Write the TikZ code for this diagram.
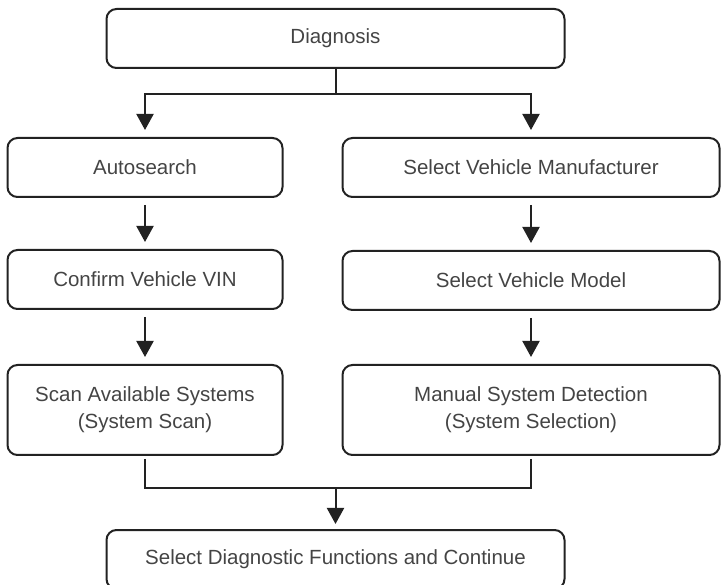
\documentclass[tikz,border=0pt]{standalone}
\usepackage{fontspec}
\setmainfont{Liberation Sans}
\usetikzlibrary{arrows.meta}
\definecolor{linec}{HTML}{222222}
\definecolor{textc}{HTML}{444444}
\begin{document}
\begin{tikzpicture}[x=1pt,y=-1pt,
  box/.style={draw=linec, line width=2pt, rounded corners=10pt, inner sep=0pt,
    align=center, text=textc, font=\fontsize{20.5}{27}\selectfont},
  narrowbox/.style={box, minimum width=275pt},
  widebox/.style={box, minimum width=377pt},
  topbox/.style={box, minimum width=458pt},
  shortbox/.style={minimum height=59pt},
  tallbox/.style={minimum height=90pt},
  link/.style={draw=linec, line width=2pt},
  arr/.style={link, -{Triangle[width=17pt,length=16pt]}}]
\useasboundingbox (0,0) rectangle (721,585);
\node[topbox, shortbox] (diag) at (335.5,38.5) {Diagnosis};
\node[narrowbox, shortbox] (auto) at (145,167.5) {Autosearch};
\node[narrowbox, shortbox] (vin) at (145,279.5) {Confirm Vehicle VIN};
\node[narrowbox, tallbox] (scan) at (145,410) {Scan Available Systems\\(System Scan)};
\node[widebox, shortbox] (manu) at (531,167.5) {Select Vehicle Manufacturer};
\node[widebox, shortbox] (model) at (531,280.5) {Select Vehicle Model};
\node[widebox, tallbox] (manual) at (531,410) {Manual System Detection\\(System Selection)};
\node[topbox, shortbox] (final) at (335.5,559.5) {Select Diagnostic Functions and Continue};
\coordinate (ty) at (0,94);
\coordinate (by) at (0,488);
\draw[link] (diag.south) -- (diag.south |- ty);
\draw[arr, shorten >=7pt] (diag.south |- ty) -| (auto.north);
\draw[arr, shorten >=7pt] (diag.south |- ty) -| (manu.north);
\draw[arr, shorten <=7pt, shorten >=7pt] (auto.south) -- (vin.north);
\draw[arr, shorten <=7pt, shorten >=7pt] (vin.south) -- (scan.north);
\draw[arr, shorten <=7pt, shorten >=7pt] (manu.south) -- (model.north);
\draw[arr, shorten <=7pt, shorten >=7pt] (model.south) -- (manual.north);
\draw[link, shorten <=3pt] (scan.south) |- (final.north |- by);
\draw[link, shorten <=3pt] (manual.south) |- (final.north |- by);
\draw[arr, shorten >=5pt] (final.north |- by) -- (final.north);
\end{tikzpicture}
\end{document}
